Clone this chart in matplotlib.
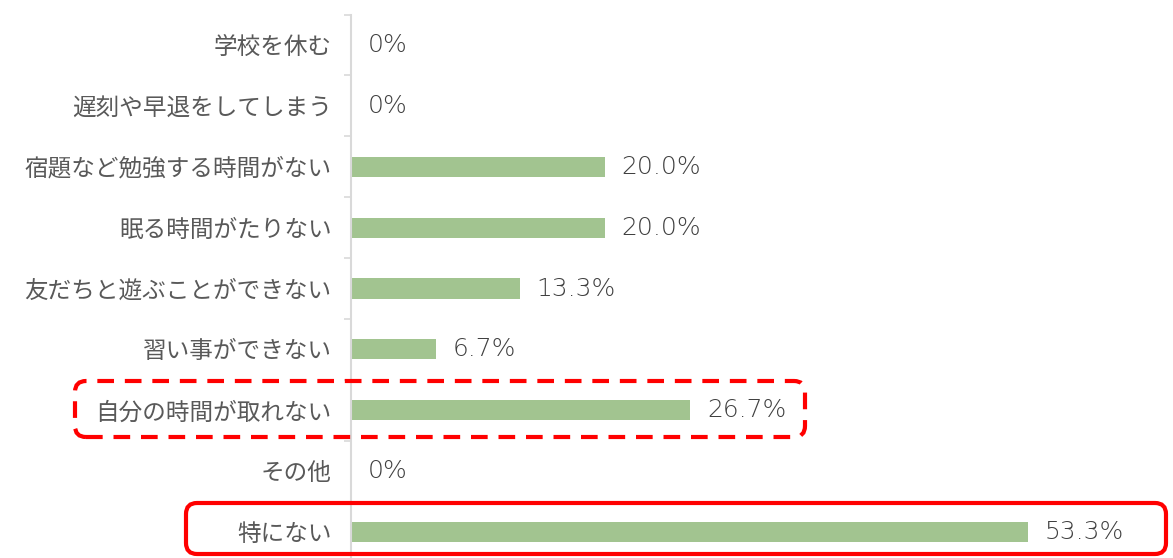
import matplotlib.pyplot as plt
from matplotlib.patches import FancyBboxPatch
from matplotlib.transforms import IdentityTransform

plt.rcParams['font.family'] = ['Noto Sans CJK JP', 'DejaVu Sans']

categories = ["学校を休む", "遅刻や早退をしてしまう", "宿題など勉強する時間がない",
              "眠る時間がたりない", "友だちと遊ぶことができない", "習い事ができない",
              "自分の時間が取れない", "その他", "特にない"]
values = [0, 0, 20.0, 20.0, 13.3, 6.7, 26.7, 0, 53.3]
labels = ["0%", "0%", "20.0%", "20.0%", "13.3%", "6.7%", "26.7%", "0%", "53.3%"]

barColor = "#A2C490"
textColor = "#595959"
axisColor = "#D9D9D9"

fig = plt.figure(figsize=(11.73, 5.58), dpi=100)
ax = fig.add_axes([351 / 1173, -4.5 / 558, 822 / 1173, 548 / 558])

pos = list(range(len(categories)))
ax.barh(pos, values, height=0.33, color=barColor)

for p, v, l in zip(pos, values, labels):
	ax.annotate(l, (v, p), xytext=(12, 0), textcoords="offset points",
				va="center", ha="left", fontsize=18, color="#404040",
				family="DejaVu Sans", fontweight="light")

ax.set_xlim(0, 64.7)
ax.set_ylim(len(categories) - 0.5, -0.5)
ax.set_yticks(pos)
ax.set_yticklabels(categories, fontsize=17, color=textColor)
ax.set_yticks([i + 0.5 for i in range(-1, len(categories))], minor=True)
ax.tick_params(axis="y", which="major", length=0, pad=14)
ax.tick_params(axis="y", which="minor", length=5, color=axisColor, width=1.2)
ax.set_xticks([])

for s in ["top", "right", "bottom"]:
	ax.spines[s].set_visible(False)
ax.spines["left"].set_color(axisColor)
ax.spines["left"].set_linewidth(1.5)

#highlight boxes in pixel coordinates
dashed = FancyBboxPatch((75, 121), 730, 56, boxstyle="round,pad=0,rounding_size=11",
						fill=False, edgecolor="#FF0000", linewidth=3,
						linestyle=(0, (4, 2.6)), transform=IdentityTransform())
solid = FancyBboxPatch((186, 4), 980, 51, boxstyle="round,pad=0,rounding_size=11",
					   fill=False, edgecolor="#FF0000", linewidth=3,
					   transform=IdentityTransform())
fig.add_artist(dashed)
fig.add_artist(solid)

fig.savefig("out.png", dpi=100)
